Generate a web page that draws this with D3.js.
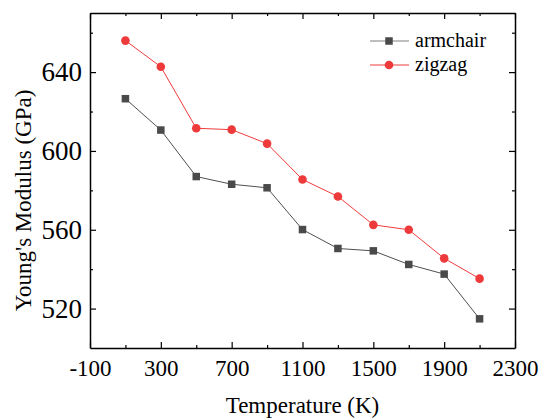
<!DOCTYPE html>
<html>
<head>
<meta charset="utf-8">
<script src="https://cdn.jsdelivr.net/npm/d3@7/dist/d3.min.js"></script>
<style>
  body { margin: 0; background: #fff; }
</style>
</head>
<body>
<svg id="chart" width="542" height="418"></svg>
<script>
const temps = [100, 300, 500, 700, 900, 1100, 1300, 1500, 1700, 1900, 2100];
const armchair = [626.5, 610.6, 587.0, 583.1, 581.3, 560.1, 550.5, 549.3, 542.4, 537.5, 514.8];
const zigzag = [656.0, 642.7, 611.5, 610.8, 603.7, 585.5, 576.9, 562.5, 560.0, 545.5, 535.2];
const xTicks = [-100, 300, 700, 1100, 1500, 1900, 2300];
const yTicks = [520, 560, 600, 640];

const FONT = "'Liberation Serif', 'Times New Roman', serif";

const margin = { top: 13, right: 27, bottom: 70, left: 90 };
const W = 542, H = 418;
const width = W - margin.left - margin.right;
const height = H - margin.top - margin.bottom;

const svg = d3.select('#chart');
const g = svg.append('g')
    .attr('transform', 'translate(' + margin.left + ',' + margin.top + ')');

const x = d3.scaleLinear().domain([-100, 2300]).range([0, width]);
const y = d3.scaleLinear().domain([500, 670]).range([height, 0]);

const xMinor = [100, 500, 900, 1300, 1700, 2100];
const yMinor = [540, 580, 620, 660];
const fmt = function(d) { return String(d); };

// bottom axis
const bottom = g.append('g')
    .attr('transform', 'translate(0,' + height + ')')
    .call(d3.axisBottom(x).tickValues(xTicks).tickSizeInner(-6).tickSizeOuter(0).tickPadding(12).tickFormat(fmt));
bottom.selectAll('text').style('font-size', '23px').attr('dy', '0.71em');

g.append('g')
    .attr('transform', 'translate(0,' + height + ')')
    .call(d3.axisBottom(x).tickValues(xMinor).tickSize(-3).tickFormat(''))
    .select('.domain').remove();

// top axis
g.append('g')
    .call(d3.axisTop(x).tickValues(xTicks).tickSizeInner(-6).tickSizeOuter(0).tickFormat(''));
g.append('g')
    .call(d3.axisTop(x).tickValues(xMinor).tickSize(-3).tickFormat(''))
    .select('.domain').remove();

// left axis
const left = g.append('g')
    .call(d3.axisLeft(y).tickValues(yTicks).tickSizeInner(-6).tickSizeOuter(0).tickPadding(8).tickFormat(fmt));
left.selectAll('text').style('font-size', '27px');
g.append('g')
    .call(d3.axisLeft(y).tickValues(yMinor).tickSize(-3).tickFormat(''))
    .select('.domain').remove();

// right axis
g.append('g')
    .attr('transform', 'translate(' + width + ',0)')
    .call(d3.axisRight(y).tickValues(yTicks).tickSizeInner(-6).tickSizeOuter(0).tickFormat(''));
g.append('g')
    .attr('transform', 'translate(' + width + ',0)')
    .call(d3.axisRight(y).tickValues(yMinor).tickSize(-3).tickFormat(''))
    .select('.domain').remove();

g.selectAll('.domain').attr('stroke', '#000').attr('stroke-width', 1.5);
g.selectAll('.tick line').attr('stroke', '#000').attr('stroke-width', 1.2);

const series = [
    { label: 'armchair', values: armchair, line: '#4f4f4f', fill: '#4a4a4a', legendLine: '#808080', shape: 'square' },
    { label: 'zigzag', values: zigzag, line: '#f03c3c', fill: '#ee3a3a', legendLine: '#f03c3c', shape: 'circle' }
];

const line = d3.line()
    .x(function(d) { return x(d.t); })
    .y(function(d) { return y(d.v); });

series.forEach(function(s) {
    const data = temps.map(function(t, i) { return { t: t, v: s.values[i] }; });
    g.append('path')
        .datum(data)
        .attr('fill', 'none')
        .attr('stroke', s.line)
        .attr('stroke-width', 1)
        .attr('d', line);
    if (s.shape === 'square') {
        g.selectAll('.sq')
            .data(data)
            .enter()
            .append('rect')
            .attr('x', function(d) { return x(d.t) - 3.75; })
            .attr('y', function(d) { return y(d.v) - 3.75; })
            .attr('width', 7.5)
            .attr('height', 7.5)
            .attr('fill', s.fill);
    } else {
        g.selectAll('.ci')
            .data(data)
            .enter()
            .append('circle')
            .attr('cx', function(d) { return x(d.t); })
            .attr('cy', function(d) { return y(d.v); })
            .attr('r', 4.3)
            .attr('fill', s.fill);
    }
});

// legend
const legend = svg.append('g').attr('transform', 'translate(370,41)');
series.forEach(function(s, i) {
    const row = legend.append('g').attr('transform', 'translate(0,' + (i * 24) + ')');
    row.append('line')
        .attr('x1', 0).attr('x2', 39).attr('y1', 0).attr('y2', 0)
        .attr('stroke', s.legendLine).attr('stroke-width', 1.2);
    if (s.shape === 'square') {
        row.append('rect').attr('x', 15.25).attr('y', -3.75).attr('width', 7.5).attr('height', 7.5).attr('fill', s.fill);
    } else {
        row.append('circle').attr('cx', 19).attr('cy', 0).attr('r', 4.3).attr('fill', s.fill);
    }
    row.append('text')
        .attr('x', 45)
        .attr('y', 0)
        .attr('dy', '0.32em')
        .style('font-size', '20px')
        .text(s.label);
});

// axis titles
svg.append('text')
    .attr('x', margin.left + width / 2)
    .attr('y', 413)
    .attr('text-anchor', 'middle')
    .style('font-size', '23px')
    .text('Temperature (K)');

svg.append('text')
    .attr('transform', 'translate(31,' + (margin.top + height / 2 + 20) + ') rotate(-90)')
    .attr('text-anchor', 'middle')
    .style('font-size', '23px')
    .text("Young's Modulus (GPa)");

svg.selectAll('g').attr('font-family', null);
svg.selectAll('text').style('font-family', FONT).style('fill', '#000');
</script>
</body>
</html>
